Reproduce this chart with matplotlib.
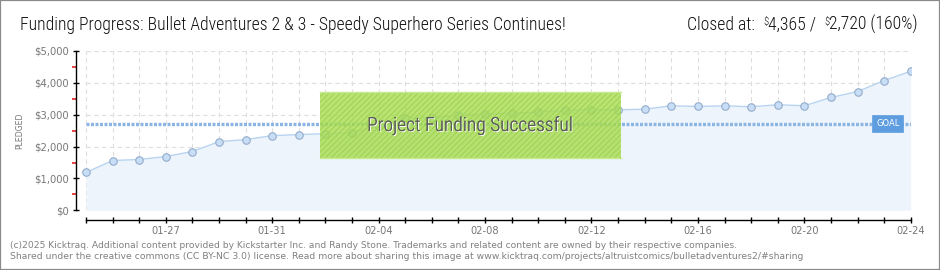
import numpy as np
import pandas as pd
import matplotlib
matplotlib.use("Agg")
import matplotlib.pyplot as plt
import matplotlib.dates as mdates
from matplotlib.patches import Rectangle
from matplotlib import patheffects as pe
from matplotlib import font_manager as fm

# Daily pledge totals (USD), one value per day of the campaign
dates = pd.date_range("2025-01-24", "2025-02-24", freq="D")
pledged = [1188, 1563, 1594, 1688, 1844, 2156, 2219, 2344, 2375, 2406,
           2438, 2660, 2906, 2906, 2978, 3019, 3050, 3081, 3134, 3156,
           3156, 3172, 3281, 3259, 3281, 3250, 3313, 3281, 3541, 3728,
           4072, 4365]
goal = 2720
closed_at = 4365
percent_funded = 160
y_ticks = [0, 1000, 2000, 3000, 4000, 5000]
y_tick_labels = ["$0", "$1,000", "$2,000", "$3,000", "$4,000", "$5,000"]
labeled_days = dates[3::4]

title = "Funding Progress: Bullet Adventures 2 & 3 - Speedy Superhero Series Continues!"
footer = [
    "(c)2025 Kicktraq. Additional content provided by Kickstarter Inc. and Randy Stone. "
    "Trademarks and related content are owned by their respective companies.",
    "Shared under the creative commons (CC BY-NC 3.0) license. Read more about sharing "
    "this image at www.kicktraq.com/projects/altruistcomics/bulletadventures2/#sharing",
]

W, H = 940, 270
available = {f.name for f in fm.fontManager.ttflist}


def pick(*names):
    for n in names:
        if n in available:
            return n
    return "DejaVu Sans"


narrow = pick("Liberation Sans Narrow", "DejaVu Sans Condensed", "Roboto Condensed",
              "Open Sans Condensed", "Liberation Sans")
plain = "DejaVu Sans"

fig = plt.figure(figsize=(W / 100, H / 100), dpi=100)
fig.patch.set_facecolor("white")


def fx(x):
    return x / W


def fy(y):
    return 1 - y / H


# plot area: left spine at x=76, $0 at y=210, $5,000 at y=51
ax = fig.add_axes([fx(76), fy(210.3), 835 / W, (210.3 - 51) / H])
ax.set_facecolor("none")

x = mdates.date2num(dates)
ax.set_xlim(x[0] - 0.376, x[-1] + 0.01)
ax.set_ylim(0, 5000)

# dashed grid starting at the first day
grid_kw = dict(color="#dedede", lw=0.8, linestyle=(0, (4, 3)), zorder=1)
ax.vlines(x, 0, 5000, **grid_kw)
ax.hlines(y_ticks[1:], x[0], x[-1], **grid_kw)

# area, line and daily markers
ax.fill_between(x, pledged, 0, color="#edf4fc", zorder=2, lw=0)
ax.plot(x, pledged, color="#b8d3f0", lw=1.0, zorder=3)
ax.plot(x, pledged, "o", ms=5.4, mfc="#c8def7", mec="#93accb", mew=0.8, zorder=4)

# goal line and tag
ax.hlines(goal, x[0], x[-1], color="#8db5e3", lw=2.4,
          linestyle=(0, (0.9, 0.45)), zorder=5)
ax.annotate("GOAL", xy=(x[-1], goal), xytext=(-8, 0), textcoords="offset points",
            ha="right", va="center", fontsize=6.0, color="white",
            family=plain, zorder=6,
            bbox=dict(boxstyle="square,pad=0.45", fc="#5e9de0", ec="#5e9de0", lw=0.5))

# axes styling
for s in ("top", "right"):
    ax.spines[s].set_visible(False)
ax.spines["left"].set_bounds(0, 5000)
ax.spines["left"].set_linewidth(1.0)
ax.spines["bottom"].set_position(("outward", 7.2))
ax.spines["bottom"].set_bounds(x[0], x[-1])
ax.spines["bottom"].set_linewidth(1.0)

ax.set_yticks(y_ticks)
ax.set_yticklabels(y_tick_labels)
ax.set_yticks(np.arange(500, 5000, 1000), minor=True)
ax.tick_params(axis="y", which="major", direction="inout", length=4, width=1,
               color="black", labelsize=7.2, labelcolor="#777777", pad=3)
ax.tick_params(axis="y", which="minor", direction="out", length=2.6, width=1.1,
               color="#e01010")

ax.set_xticks(mdates.date2num(labeled_days))
ax.set_xticklabels([d.strftime("%m-%d") for d in labeled_days])
ax.set_xticks(x, minor=True)
ax.tick_params(axis="x", which="both", direction="inout", length=5, width=1,
               color="black", labelsize=7.1, labelcolor="#777777", pad=1.5)
for lab in ax.get_xticklabels() + ax.get_yticklabels():
    lab.set_family(plain)

fig.text(fx(20), fy(131), "PLEDGED", rotation=90, ha="center", va="center",
         fontsize=5.6, color="#777777", family=plain)

# funded overlay (translucent, so the daily markers show faintly through it)
box_l, box_r, box_t, box_b = 320, 621, 92.3, 158.3
ax.add_patch(Rectangle((fx(box_l), fy(box_b)), (box_r - box_l) / W, (box_b - box_t) / H,
                       transform=fig.transFigure, fc="#a8dd50", ec="none", alpha=0.8,
                       zorder=10, clip_on=False))
plt.rcParams["hatch.linewidth"] = 0.6
ax.add_patch(Rectangle((fx(box_l), fy(box_b)), (box_r - box_l) / W, (box_b - box_t) / H,
                       transform=fig.transFigure, fc="none", ec="#9ccf4a", lw=0,
                       hatch="//////", zorder=11, clip_on=False))
for yy in (box_t, box_b):
    ax.plot([fx(box_l), fx(box_r)], [fy(yy), fy(yy)], transform=fig.transFigure,
            color="#c7ea90", lw=1.0, zorder=12, clip_on=False)

banner = fig.text(fx(470), fy(126), "Project Funding Successful", ha="center",
                  va="center", fontsize=14, color="#5a5a5a", family=narrow,
                  weight="light", zorder=13)
banner.set_path_effects([pe.withSimplePatchShadow(offset=(0.7, -0.7),
                                                  shadow_rgbFace="white", alpha=1.0),
                         pe.Normal()])

# header and footer text
fig.canvas.draw()
renderer = fig.canvas.get_renderer()


def fit_width(t, target):
    w = t.get_window_extent(renderer).width
    t.set_fontsize(t.get_fontsize() * target / w)


fit_width(banner, 206)

t_title = fig.text(fx(20), fy(30), title, ha="left", va="baseline",
                   fontsize=11, color="#111111", family=narrow, weight="light")
fit_width(t_title, 544)
head_size = t_title.get_fontsize()

pieces = [("Closed at:  ", head_size, 0), ("$", head_size * 0.6, 5),
          (f"{closed_at:,} /  ", head_size, 0), ("$", head_size * 0.6, 5),
          (f"{goal:,} ({percent_funded}%)", head_size, 0)]
texts = []
for s, size, rise in pieces:
    t = fig.text(0, fy(30 - rise), s, ha="left", va="baseline", fontsize=size,
                 color="#111111", family=narrow, weight="light")
    texts.append(t)
widths = [t.get_window_extent(renderer).width for t in texts]
cur = 918 - sum(widths)
for t, w in zip(texts, widths):
    t.set_x(fx(cur))
    cur += w

for i, line in enumerate(footer):
    t = fig.text(fx(10), fy(247.5 + 11.5 * i), line, ha="left", va="baseline",
                 fontsize=6.6, color="#808080", family=plain)
    fit_width(t, 729 if i == 0 else 793)

# outer frame
fig.add_artist(Rectangle((0, 0), 1, 1, transform=fig.transFigure, fill=False,
                         ec="#8a8a8a", lw=1.6))

fig.savefig("out.png", dpi=100, facecolor="white")
